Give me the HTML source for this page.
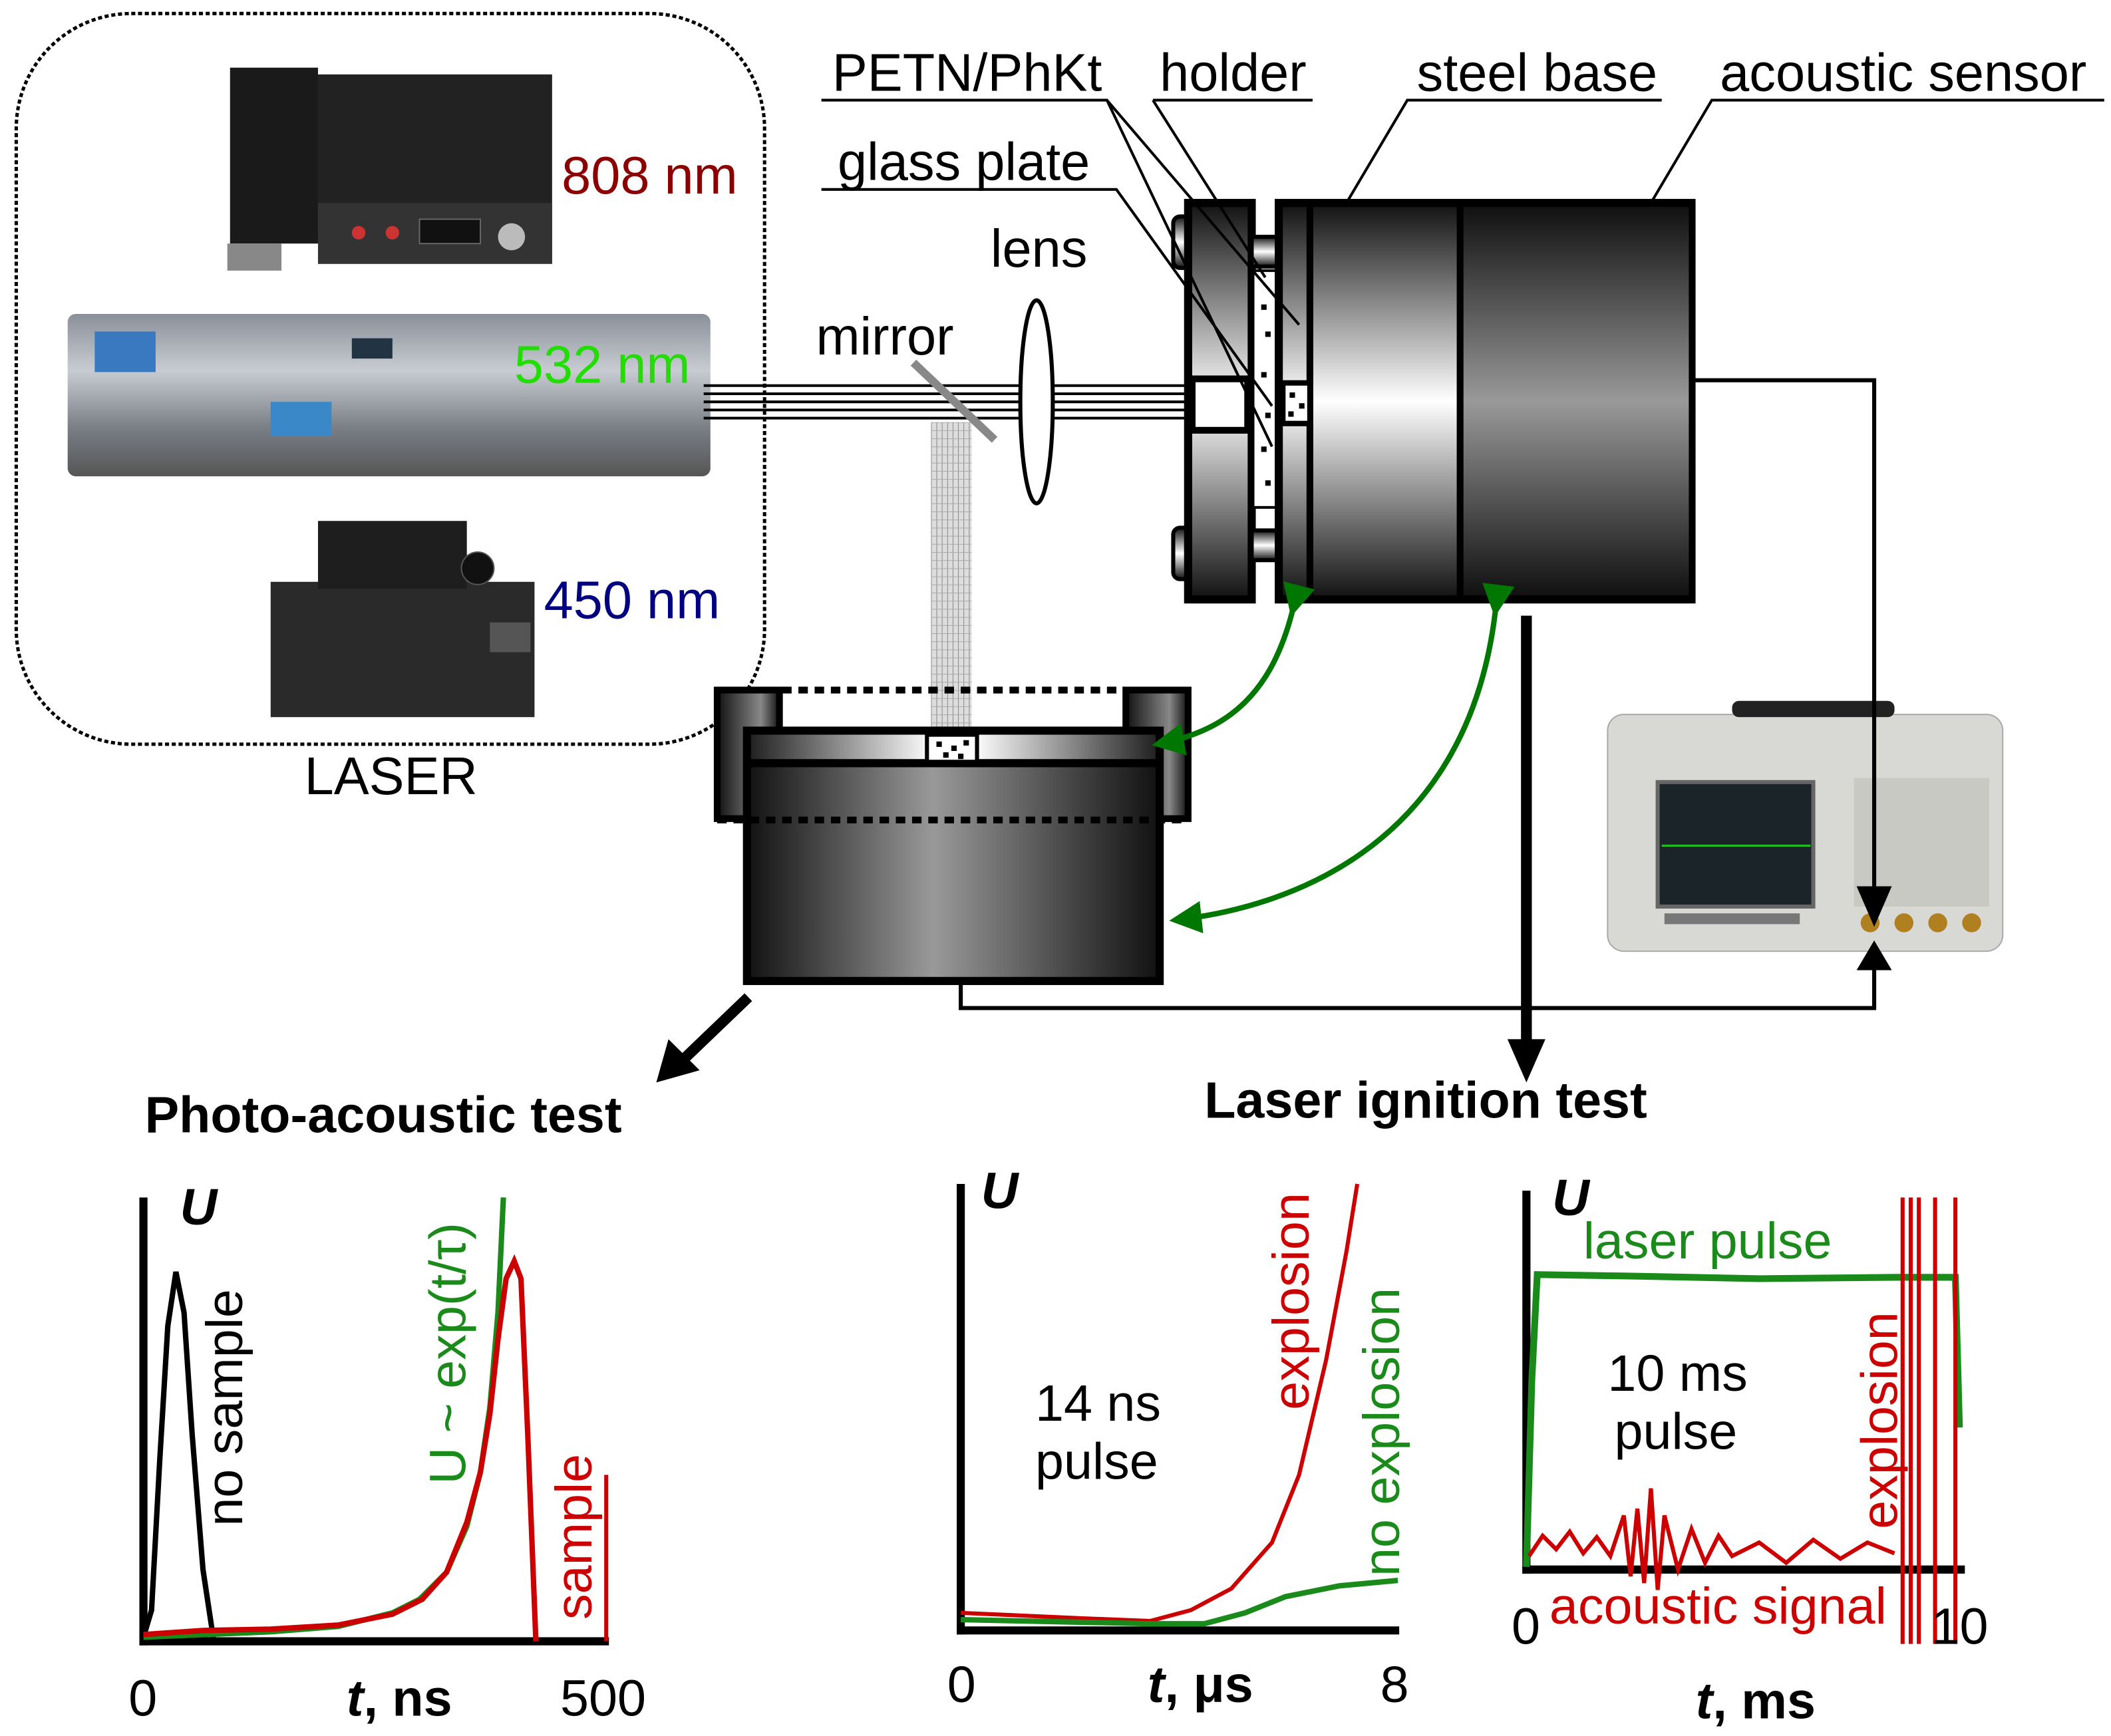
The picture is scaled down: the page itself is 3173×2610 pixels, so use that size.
<!DOCTYPE html>
<html><head><meta charset="utf-8"><style>html,body{margin:0;padding:0;background:#fff}svg{display:block}text{font-family:"Liberation Sans",sans-serif}</style></head>
<body>
<svg width="3173" height="2610" viewBox="0 0 1560 1283" preserveAspectRatio="none" xmlns="http://www.w3.org/2000/svg">
<defs>
<linearGradient id="vsteel" x1="0" y1="0" x2="0" y2="1"><stop offset="0" stop-color="#111"/><stop offset="0.5" stop-color="#fff"/><stop offset="1" stop-color="#111"/></linearGradient>
<linearGradient id="vsens" x1="0" y1="0" x2="0" y2="1"><stop offset="0" stop-color="#111"/><stop offset="0.5" stop-color="#999"/><stop offset="1" stop-color="#111"/></linearGradient>
<linearGradient id="hcell" x1="0" y1="0" x2="1" y2="0"><stop offset="0" stop-color="#111"/><stop offset="0.45" stop-color="#999"/><stop offset="1" stop-color="#111"/></linearGradient>
<linearGradient id="hplate" x1="0" y1="0" x2="1" y2="0"><stop offset="0" stop-color="#222"/><stop offset="0.45" stop-color="#fff"/><stop offset="0.55" stop-color="#fff"/><stop offset="1" stop-color="#222"/></linearGradient>
<linearGradient id="hwall" x1="0" y1="0" x2="1" y2="0"><stop offset="0" stop-color="#111"/><stop offset="0.7" stop-color="#888"/><stop offset="1" stop-color="#111"/></linearGradient>
<linearGradient id="laser532" x1="0" y1="0" x2="0" y2="1"><stop offset="0" stop-color="#8a9099"/><stop offset="0.35" stop-color="#c8ccd2"/><stop offset="0.7" stop-color="#7a7f86"/><stop offset="1" stop-color="#555"/></linearGradient>
<pattern id="hatch" width="4" height="6" patternUnits="userSpaceOnUse"><rect width="4" height="6" fill="#ddd"/><line x1="0" y1="0" x2="0" y2="6" stroke="#888" stroke-width="1"/><line x1="0" y1="0" x2="4" y2="0" stroke="#aaa" stroke-width="1"/></pattern>
<marker id="ga" markerWidth="6" markerHeight="6" refX="5" refY="3" orient="auto" markerUnits="strokeWidth"><path d="M0,0 L6,3 L0,6 z" fill="#007700"/></marker>
</defs>

<!-- laser group -->
<rect x="12" y="10" width="553" height="540" rx="85" fill="none" stroke="#000" stroke-width="2.5" stroke-dasharray="3,2"/>
<rect x="170" y="50" width="65" height="130" fill="#1a1a1a"/>
<rect x="235" y="55" width="173" height="140" fill="#222"/>
<rect x="235" y="150" width="173" height="45" fill="#333"/>
<rect x="310" y="162" width="45" height="18" fill="#111" stroke="#666"/>
<circle cx="378" cy="175" r="10" fill="#bbb"/>
<circle cx="265" cy="172" r="5" fill="#c33"/><circle cx="290" cy="172" r="5" fill="#c33"/>
<rect x="168" y="180" width="40" height="20" fill="#888"/>
<text x="415" y="143" font-size="39" fill="#8b0000">808 nm</text>
<rect x="50" y="232" width="475" height="120" rx="6" fill="url(#laser532)"/>
<rect x="70" y="245" width="45" height="30" fill="#3a78c0"/>
<rect x="200" y="297" width="45" height="25" fill="#3a88c8"/>
<rect x="260" y="250" width="30" height="15" fill="#234"/>
<text x="380" y="283" font-size="39" fill="#22dd00">532 nm</text>
<rect x="200" y="430" width="195" height="100" fill="#2a2a2a"/>
<rect x="235" y="385" width="110" height="50" fill="#1e1e1e"/>
<circle cx="353" cy="420" r="12" fill="#111" stroke="#555"/>
<rect x="362" y="460" width="30" height="22" fill="#555"/>
<text x="402" y="457" font-size="39" fill="#000080">450 nm</text>
<text x="225" y="587" font-size="39" fill="#000">LASER</text>

<!-- beam -->
<g stroke="#000" stroke-width="2">
<line x1="520" y1="285" x2="880" y2="285"/><line x1="520" y1="291" x2="880" y2="291"/><line x1="520" y1="297" x2="880" y2="297"/><line x1="520" y1="303" x2="880" y2="303"/><line x1="520" y1="309" x2="880" y2="309"/>
</g>
<rect x="688" y="312" width="30" height="232" fill="url(#hatch)"/>
<line x1="675" y1="268" x2="735" y2="325" stroke="#888" stroke-width="6"/>
<ellipse cx="766" cy="297" rx="12" ry="75" fill="#fff" stroke="#000" stroke-width="3"/>
<text x="603" y="262" font-size="39">mirror</text>
<text x="732" y="197" font-size="39">lens</text>

<!-- holder -->
<rect x="867" y="160" width="14" height="38" rx="5" fill="url(#vsteel)" stroke="#000" stroke-width="3"/>
<rect x="867" y="390" width="14" height="38" rx="5" fill="url(#vsteel)" stroke="#000" stroke-width="3"/>
<rect x="878" y="150" width="47" height="293" fill="url(#vsteel)" stroke="#000" stroke-width="6"/>
<rect x="881" y="280" width="41" height="38" fill="#fff" stroke="#000" stroke-width="5"/>
<rect x="925" y="175" width="20" height="22" fill="url(#vsteel)" stroke="#000" stroke-width="3"/>
<rect x="925" y="392" width="20" height="22" fill="url(#vsteel)" stroke="#000" stroke-width="3"/>
<rect x="926" y="200" width="18" height="175" fill="#fff" stroke="#000" stroke-width="2"/>
<g fill="#000"><rect x="932" y="225" width="4" height="4"/><rect x="935" y="245" width="4" height="4"/><rect x="932" y="275" width="4" height="4"/><rect x="935" y="305" width="4" height="4"/><rect x="932" y="330" width="4" height="4"/><rect x="935" y="355" width="4" height="4"/></g>
<rect x="945" y="150" width="305" height="293" fill="url(#vsteel)" stroke="#000" stroke-width="6"/>
<rect x="1078" y="153" width="170" height="287" fill="url(#vsens)"/>
<line x1="968" y1="150" x2="968" y2="443" stroke="#000" stroke-width="5"/>
<line x1="1079" y1="150" x2="1079" y2="443" stroke="#000" stroke-width="5"/>
<rect x="948" y="283" width="20" height="30" fill="#fff" stroke="#000" stroke-width="4"/>
<g fill="#000"><rect x="953" y="290" width="4" height="4"/><rect x="960" y="298" width="4" height="4"/><rect x="952" y="304" width="4" height="4"/></g>

<!-- labels -->
<g font-size="39">
<text x="615" y="67">PETN/PhKt</text><text x="857" y="67">holder</text><text x="1047" y="67">steel base</text><text x="1271" y="67">acoustic sensor</text><text x="619" y="133">glass plate</text>
</g>
<g stroke="#000" stroke-width="2" fill="none">
<polyline points="607,74 818,74 960,240"/>
<polyline points="852,74 970,74"/><line x1="852" y1="74" x2="935" y2="205"/>
<polyline points="1228,74 1040,74 995,150"/>
<polyline points="1555,74 1265,74 1220,150"/>
<polyline points="607,140 825,140 940,300"/>
<line x1="818" y1="74" x2="940" y2="330"/>
</g>

<!-- oscilloscope -->
<rect x="1188" y="528" width="292" height="175" rx="12" fill="#d8d8d4" stroke="#aaa"/>
<rect x="1280" y="518" width="120" height="12" rx="5" fill="#222"/>
<rect x="1225" y="578" width="115" height="92" fill="#1b2428" stroke="#666" stroke-width="3"/>
<line x1="1228" y1="625" x2="1338" y2="625" stroke="#2b2" stroke-width="1.5"/>
<rect x="1370" y="575" width="100" height="95" fill="#c9c9c4"/>
<g fill="#b08020"><circle cx="1382" cy="682" r="7"/><circle cx="1407" cy="682" r="7"/><circle cx="1432" cy="682" r="7"/><circle cx="1457" cy="682" r="7"/></g>
<rect x="1230" y="675" width="100" height="8" fill="#777"/>
<!-- wire sensor to scope -->
<polyline points="1252,281 1385,281 1385,665" fill="none" stroke="#000" stroke-width="3"/>
<path d="M1372,655 L1398,655 L1385,685 z" fill="#000"/>
<polyline points="710,725 710,745 1385,745 1385,712" fill="none" stroke="#000" stroke-width="3"/>
<path d="M1372,717 L1398,717 L1385,695 z" fill="#000"/>
<line x1="1128" y1="455" x2="1128" y2="770" stroke="#000" stroke-width="8"/>
<path d="M1114,768 L1142,768 L1128,800 z" fill="#000"/>
<line x1="553" y1="737" x2="505" y2="783" stroke="#000" stroke-width="8"/>
<path d="M485,800 L494,768 L517,791 z" fill="#000"/>

<!-- photoacoustic cell -->
<rect x="530" y="510" width="46" height="95" fill="url(#hwall)" stroke="#000" stroke-width="5"/>
<rect x="832" y="510" width="46" height="95" fill="url(#hwall)" stroke="#000" stroke-width="5"/>
<line x1="578" y1="510" x2="832" y2="510" stroke="#000" stroke-width="5" stroke-dasharray="7,5"/>
<rect x="552" y="540" width="305" height="185" fill="url(#hcell)" stroke="#000" stroke-width="6"/>
<rect x="555" y="543" width="299" height="20" fill="url(#hplate)"/>
<line x1="552" y1="564" x2="857" y2="564" stroke="#000" stroke-width="6"/>
<rect x="685" y="543" width="37" height="20" fill="#fff" stroke="#000" stroke-width="3"/>
<g fill="#000"><rect x="692" y="548" width="4" height="4"/><rect x="703" y="551" width="4" height="4"/><rect x="712" y="547" width="4" height="4"/><rect x="697" y="556" width="4" height="4"/><rect x="708" y="557" width="4" height="4"/></g>
<line x1="530" y1="606" x2="878" y2="606" stroke="#000" stroke-width="5" stroke-dasharray="7,5"/>

<g fill="none" stroke="#007700" stroke-width="4" marker-end="url(#ga)" marker-start="url(#ga)">
<path d="M955,452 C940,510 910,540 855,550"/>
<path d="M1105,452 C1085,620 960,670 868,680"/>
</g>

<text x="107" y="837" font-size="38" font-weight="bold">Photo-acoustic test</text>
<text x="890" y="826" font-size="38" font-weight="bold">Laser ignition test</text>

<!-- plot 1 -->
<g stroke="#000" stroke-width="6"><line x1="106" y1="885" x2="106" y2="1216"/><line x1="103" y1="1213" x2="450" y2="1213"/></g>
<text x="133" y="905" font-size="38" font-weight="bold" font-style="italic">U</text>
<polyline points="106,1210 112,1190 118,1080 124,980 130,940 136,970 142,1060 150,1160 158,1213" fill="none" stroke="#000" stroke-width="4"/>
<polyline points="106,1210 200,1206 250,1202 290,1192 310,1182 330,1162 345,1128 355,1088 362,1040 368,970 372,885" fill="none" stroke="#1a8a1a" stroke-width="4"/>
<polyline points="106,1208 150,1205 200,1204 250,1201 290,1193 312,1182 330,1162 345,1125 355,1088 362,1045 368,990 374,945 380,932 385,945 390,1060 396,1213" fill="none" stroke="#cc0000" stroke-width="4"/>
<line x1="448" y1="1213" x2="448" y2="1090" stroke="#cc0000" stroke-width="3"/>
<text transform="translate(179,1128) rotate(-90)" font-size="38">no sample</text>
<text transform="translate(344,1097) rotate(-90)" font-size="38" fill="#1a8a1a">U ~ exp(t/τ)</text>
<text transform="translate(437,1197) rotate(-90)" font-size="38" fill="#cc0000">sample</text>
<text x="95" y="1268" font-size="38">0</text>
<text x="256" y="1268" font-size="38" font-weight="bold"><tspan font-style="italic">t</tspan>, ns</text>
<text x="414" y="1268" font-size="38">500</text>

<!-- plot 2 -->
<g stroke="#000" stroke-width="6"><line x1="710" y1="875" x2="710" y2="1208"/><line x1="707" y1="1205" x2="1034" y2="1205"/></g>
<text x="725" y="893" font-size="38" font-weight="bold" font-style="italic">U</text>
<text x="765" y="1050" font-size="38">14 ns</text><text x="765" y="1093" font-size="38">pulse</text>
<polyline points="710,1192 800,1196 850,1198 880,1190 910,1174 940,1140 960,1090 980,1005 995,925 1003,875" fill="none" stroke="#cc0000" stroke-width="3"/>
<polyline points="710,1197 850,1200 890,1200 920,1192 950,1180 990,1172 1033,1168" fill="none" stroke="#1a8a1a" stroke-width="4"/>
<text transform="translate(967,1042) rotate(-90)" font-size="38" fill="#cc0000">explosion</text>
<text transform="translate(1034,1165) rotate(-90)" font-size="38" fill="#1a8a1a">no explosion</text>
<text x="700" y="1258" font-size="38">0</text>
<text x="848" y="1258" font-size="38" font-weight="bold"><tspan font-style="italic">t</tspan>, μs</text>
<text x="1020" y="1258" font-size="38">8</text>

<!-- plot 3 -->
<g stroke="#000" stroke-width="6"><line x1="1128" y1="880" x2="1128" y2="1163"/><line x1="1125" y1="1160" x2="1452" y2="1160"/></g>
<text x="1147" y="898" font-size="38" font-weight="bold" font-style="italic">U</text>
<text x="1170" y="930" font-size="38" fill="#1a8a1a">laser pulse</text>
<polyline points="1128,1158 1132,1020 1136,942 1200,943 1300,945 1400,944 1445,944 1448,1055" fill="none" stroke="#1a8a1a" stroke-width="5"/>
<polyline points="1130,1150 1140,1135 1150,1145 1160,1132 1170,1148 1180,1136 1190,1150 1200,1120 1205,1165 1210,1115 1215,1170 1220,1100 1225,1175 1230,1120 1240,1160 1250,1130 1260,1155 1270,1135 1280,1150 1300,1140 1320,1155 1340,1138 1360,1152 1380,1140 1400,1148" fill="none" stroke="#cc0000" stroke-width="3"/>
<g stroke="#cc0000" stroke-width="3"><line x1="1406" y1="885" x2="1406" y2="1215"/><line x1="1412" y1="885" x2="1412" y2="1215"/><line x1="1418" y1="885" x2="1418" y2="1215"/><line x1="1430" y1="885" x2="1430" y2="1215"/><line x1="1445" y1="885" x2="1445" y2="1215"/></g>
<text x="1188" y="1028" font-size="38">10 ms</text><text x="1193" y="1071" font-size="38">pulse</text>
<text transform="translate(1402,1130) rotate(-90)" font-size="38" fill="#cc0000">explosion</text>
<text x="1145" y="1200" font-size="38" fill="#cc0000">acoustic signal</text>
<text x="1117" y="1215" font-size="38">0</text>
<text x="1427" y="1215" font-size="38">10</text>
<text x="1253" y="1270" font-size="38" font-weight="bold"><tspan font-style="italic">t</tspan>, ms</text>
</svg>
</body></html>
